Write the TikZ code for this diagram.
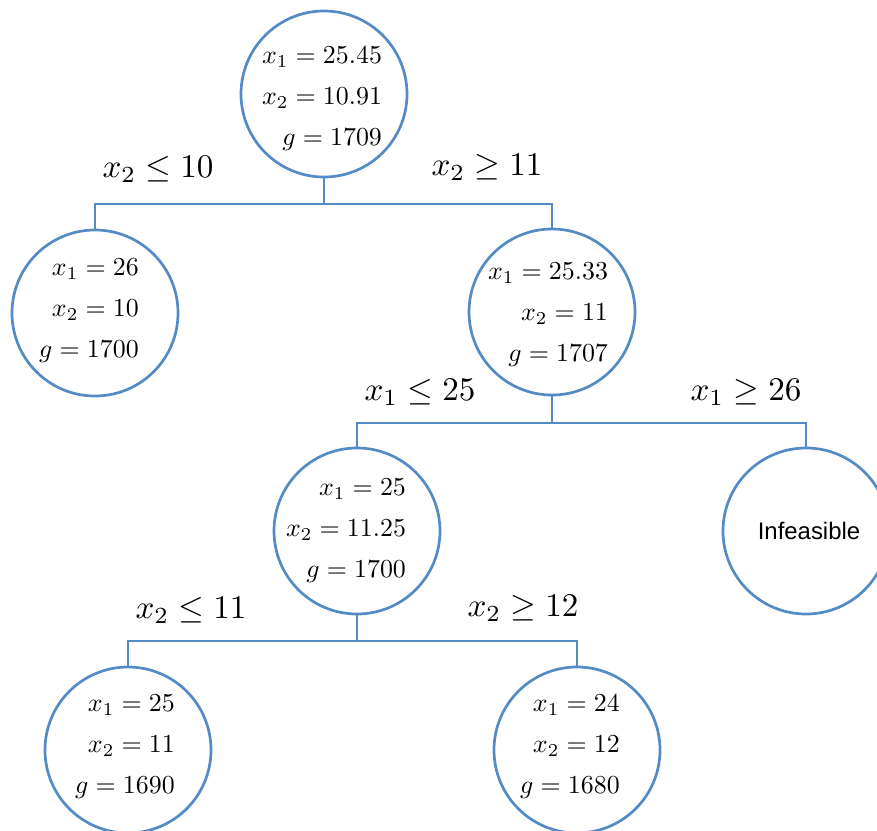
\documentclass[tikz,border=0pt]{standalone}
\usepackage{fontspec}
\newfontfamily\arialfont{Liberation Sans}
\definecolor{treeblue}{RGB}{84,139,196}
\newcommand\ntxt[3]{\scalebox{2.6}{\fontsize{10}{15.8}\selectfont\begin{tabular}{@{}r@{}}$#1$\\$#2$\\$#3$\end{tabular}}}
\newcommand\ctxt[1]{\scalebox{3.32}{\fontsize{10}{12}\selectfont$#1$}}
\begin{document}
\begin{tikzpicture}[x=1bp,y=-1bp,
  treenode/.style={circle,draw=treeblue,line width=2.7bp,minimum size=166bp,inner sep=0pt},
  vals/.style 2 args={inner sep=0pt,xshift=#1,yshift=#2},
  branch/.style={draw=treeblue,line width=2.9bp},
  cond/.style={inner sep=0pt}]
\useasboundingbox (0,0) rectangle (877,831);
\clip (0,0) rectangle (877,831);

\node[treenode,label={[vals={-2bp}{-2bp}]center:\ntxt{x_1 = 25.45}{x_2 = 10.91}{g = 1709}}] (root) at (324,94) {};
\node[treenode,label={[vals={-6bp}{5bp}]center:\ntxt{x_1 = 26}{x_2 = 10}{g = 1700}}] (L) at (95,313) {};
\node[treenode,label={[vals={-4bp}{0bp}]center:\ntxt{x_1 = 25.33}{x_2 = 11}{g = 1707}}] (R) at (552,312) {};
\node[treenode,label={[vals={-11bp}{3bp}]center:\ntxt{x_1 = 25}{x_2 = 11.25}{g = 1700}}] (RL) at (357,531) {};
\node[treenode,font=\arialfont\fontsize{24}{28}\selectfont] (RR) at (806,531) {\hspace*{6bp}Infeasible};
\node[treenode,label={[vals={-3bp}{6bp}]center:\ntxt{x_1 = 25}{x_2 = 11}{g = 1690}}] (RLL) at (128,750) {};
\node[treenode,label={[vals={-7bp}{6bp}]center:\ntxt{x_1 = 24}{x_2 = 12}{g = 1680}}] (RLR) at (577,750) {};

\coordinate (bar1) at (0,204);
\coordinate (bar2) at (0,423);
\coordinate (bar3) at (0,641);

\draw[branch] (root.south) -- (root.south |- bar1);
\draw[branch] (L.north) |- (root.south |- bar1) -| (R.north);
\draw[branch] (R.south) -- (R.south |- bar2);
\draw[branch] (RL.north) |- (R.south |- bar2) -| (RR.north);
\draw[branch] (RL.south) -- (RL.south |- bar3);
\draw[branch] (RLL.north) |- (RL.south |- bar3) -| (RLR.north);

\node[cond] (c1) at (158,169) {\ctxt{x_2 \le 10}};
\node[cond] (c2) at (487,167) {\ctxt{x_2 \ge 11}};
\node[cond] (c3) at (420,392) {\ctxt{x_1 \le 25}};
\node[cond] (c4) at (746,392) {\ctxt{x_1 \ge 26}};
\node[cond] (c5) at (191,610) {\ctxt{x_2 \le 11}};
\node[cond] (c6) at (523,608) {\ctxt{x_2 \ge 12}};
\end{tikzpicture}
\end{document}
